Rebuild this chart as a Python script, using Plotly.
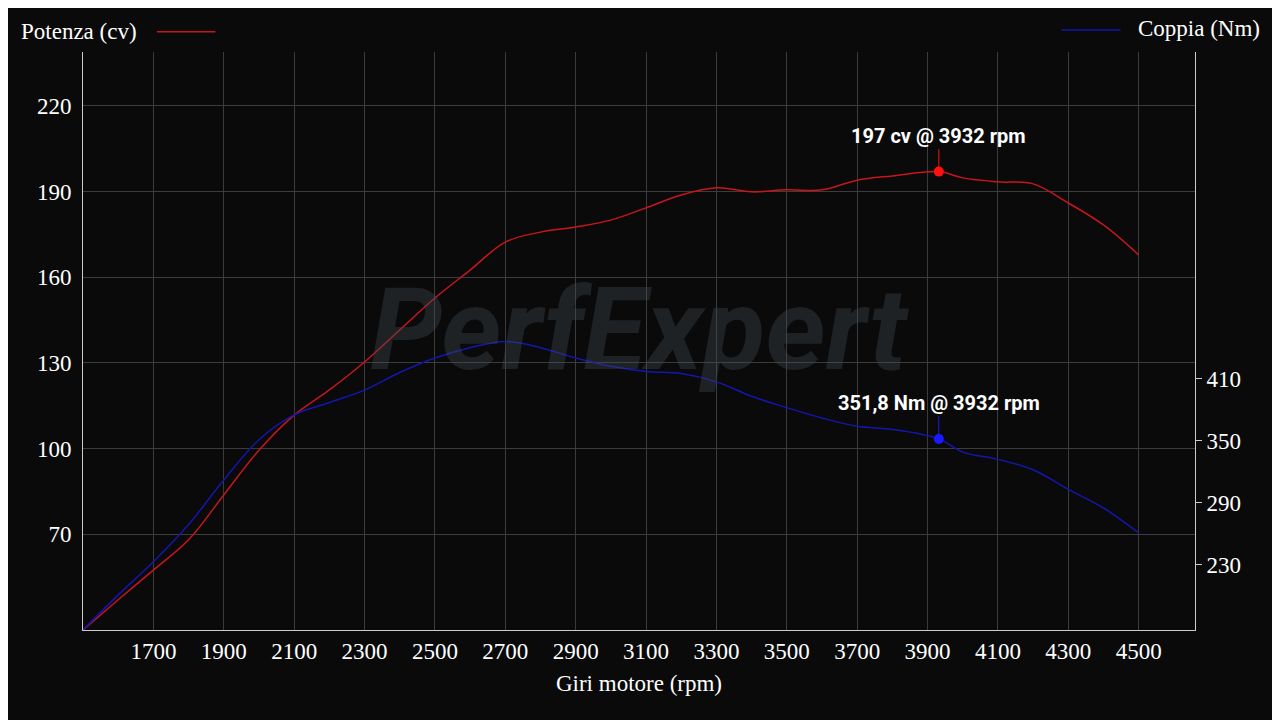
import plotly.graph_objects as go

rpm = [1500,1600,1700,1800,1900,2000,2100,2200,2300,2400,2500,2600,2700,2800,2900,3000,3100,3200,3300,3400,3500,3600,3700,3800,3932,4000,4100,4200,4300,4400,4500]
potenza = [36.4,47,57.4,68,83.7,99.4,111.7,120.5,130.3,141.5,152.7,162.5,172.3,175.8,177.6,180,184.3,188.8,191.3,189.9,190.6,190.6,194,195.5,197,194.8,193.4,192.7,186,178.3,167.8]
coppia = [167,201,233,269,312,351,375,387,399,416,430,440,446,440,430,422,417,415,407,393,382,372,364,361,351.8,339,332,322,303,285,261]
x_ticks = list(range(1700, 4501, 200))
left_ticks = [70,100,130,160,190,220]
right_ticks = [230,290,350,410]
peak_rpm = 3932
peak_cv = 197
peak_nm = 351.8

serif = "Liberation Serif"
fig = go.Figure()
fig.add_trace(go.Scatter(x=rpm, y=potenza, mode="lines", line=dict(color="#c8161d", width=1.5, shape="spline"), name="Potenza (cv)"))
fig.add_trace(go.Scatter(x=rpm, y=coppia, mode="lines", line=dict(color="#1515b0", width=1.5, shape="spline"), name="Coppia (Nm)", yaxis="y2"))
fig.add_trace(go.Scatter(x=[peak_rpm], y=[peak_cv], mode="markers", marker=dict(color="#ff1010", size=10)))
fig.add_trace(go.Scatter(x=[peak_rpm], y=[peak_nm], mode="markers", marker=dict(color="#1a1aff", size=10), yaxis="y2"))

fig.add_annotation(x=peak_rpm, y=peak_cv, text=f"{peak_cv} cv @ {peak_rpm} rpm", showarrow=True, arrowhead=0, arrowcolor="#ff1010", ax=0, ay=-36, font=dict(family="Roboto", size=20, color="white", weight="bold"))
fig.add_annotation(x=peak_rpm, y=peak_nm, yref="y2", text=f"{str(peak_nm).replace('.', ',')} Nm @ {peak_rpm} rpm", showarrow=True, arrowhead=0, arrowcolor="#1a1aff", ax=0, ay=-36, font=dict(family="Roboto", size=20, color="white", weight="bold"))
fig.add_annotation(xref="paper", yref="paper", x=0.5, y=0.52, text="<i>PerfExpert</i>", showarrow=False, font=dict(family="Roboto", size=115, color="rgba(70,80,90,0.35)", weight="bold"))

fig.add_annotation(xref="paper", yref="paper", x=-0.058, y=1.036, xanchor="left", yanchor="middle", text="Potenza (cv)", showarrow=False, font=dict(family=serif, size=23, color="white"))
fig.add_shape(type="line", xref="paper", yref="paper", x0=0.0665, x1=0.119, y0=1.035, y1=1.035, line=dict(color="#c8161d", width=1.5))
fig.add_annotation(xref="paper", yref="paper", x=1.06, y=1.04, xanchor="right", yanchor="middle", text="Coppia (Nm)", showarrow=False, font=dict(family=serif, size=23, color="white"))
fig.add_shape(type="line", xref="paper", yref="paper", x0=0.88, x1=0.933, y0=1.038, y1=1.038, line=dict(color="#1515b0", width=1.5))

axfont = dict(family=serif, size=23, color="white")
fig.update_layout(
    width=1280, height=720, paper_bgcolor="#0a0a0a", plot_bgcolor="#0a0a0a",
    margin=dict(l=75, r=93, t=44, b=98), showlegend=False,
    xaxis=dict(range=[1500, 4660], tickvals=x_ticks, tickfont=axfont, gridcolor="#3c3c3c", showline=True, linecolor="#cccccc", zeroline=False,
               title=dict(text="Giri motore (rpm)", font=axfont, standoff=12)),
    yaxis=dict(range=[36.4, 238.9], tickvals=left_ticks, tickfont=axfont, gridcolor="#3c3c3c", showline=True, linecolor="#cccccc", zeroline=False, ticks="outside", ticklen=6, tickcolor="#0a0a0a"),
    yaxis2=dict(range=[167, 726], overlaying="y", side="right", tickvals=right_ticks, tickfont=axfont, showgrid=False, showline=True, linecolor="#cccccc", zeroline=False, ticks="outside", ticklen=6, tickcolor="#cccccc"),
)
fig.write_html("out.html")
